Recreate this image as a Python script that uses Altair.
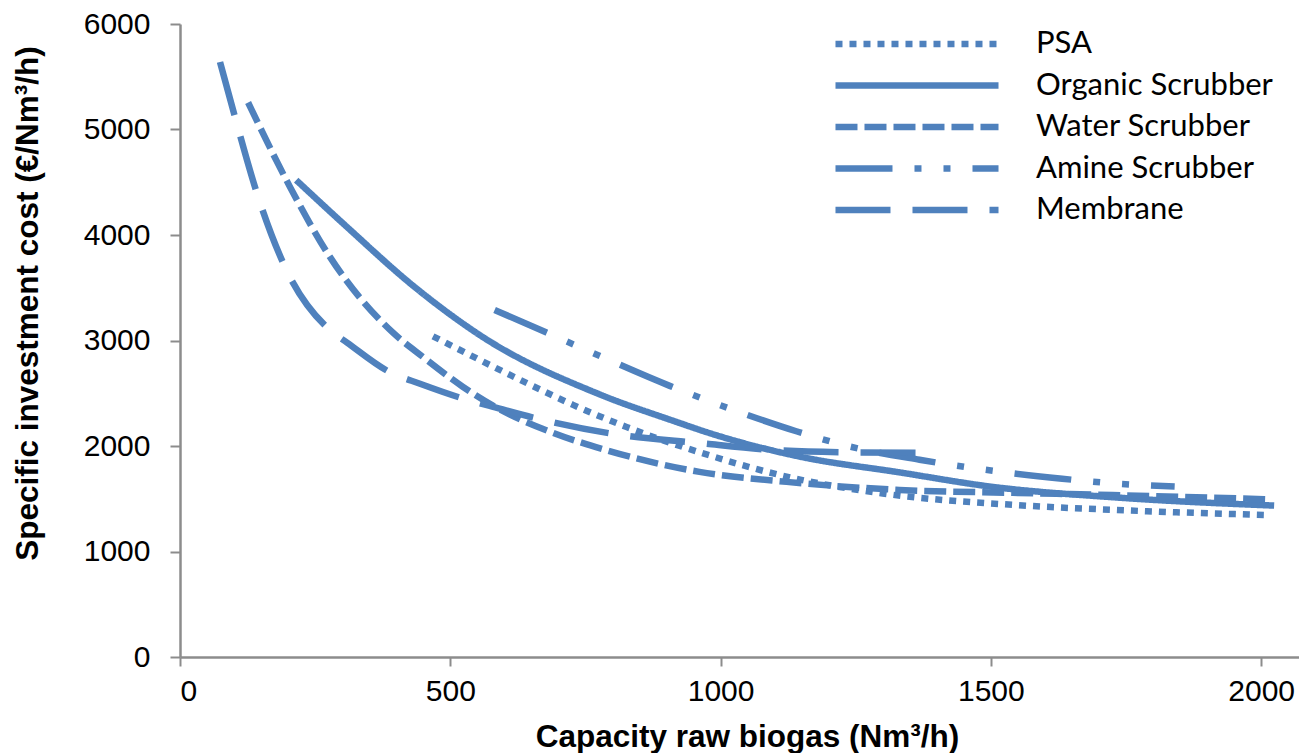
import altair as alt
import pandas as pd

series = ["PSA", "Organic Scrubber", "Water Scrubber", "Amine Scrubber", "Membrane"]

psa_x = [468, 628, 727, 826, 974, 1122, 1300, 1547, 1725, 2015]
psa_y = [3040, 2630, 2390, 2180, 1920, 1710, 1550, 1440, 1395, 1345]

organic_x = [215, 308, 431, 499, 555, 776, 906, 1000, 1146, 1331, 1500, 1738, 2024]
organic_y = [4520, 4080, 3520, 3250, 3050, 2490, 2250, 2090, 1900, 1750, 1615, 1510, 1435]

water_x = [126, 203, 277, 394, 449, 523, 586, 690, 789, 961, 1122, 1331, 1550, 1725, 2015]
water_y = [5256, 4460, 3795, 3074, 2846, 2562, 2362, 2125, 1960, 1755, 1660, 1584, 1555, 1535, 1495]

amine_x = [582, 678, 767, 906, 1041, 1140, 1235, 1368, 1482, 1632, 1728, 1840]
amine_y = [3290, 3075, 2875, 2570, 2310, 2140, 2000, 1870, 1780, 1690, 1645, 1615]

membrane_x = [74, 102, 142, 194, 277, 309, 388, 444, 530, 573, 669, 813, 956, 1103, 1244, 1390]
membrane_y = [5640, 5114, 4402, 3700, 3100, 2980, 2700, 2590, 2440, 2380, 2250, 2106, 2030, 1960, 1940, 1935]

x_ticks = [0, 500, 1000, 1500, 2000]
y_ticks = [0, 1000, 2000, 3000, 4000, 5000, 6000]

dashes = [[7, 7], [1, 0], [22, 7], [57, 22, 7, 22, 7, 22], [55, 22]]

rows = []
for name, xs, ys in [
    ("PSA", psa_x, psa_y),
    ("Organic Scrubber", organic_x, organic_y),
    ("Water Scrubber", water_x, water_y),
    ("Amine Scrubber", amine_x, amine_y),
    ("Membrane", membrane_x, membrane_y),
]:
    for xv, yv in zip(xs, ys):
        rows.append({"series": name, "x": xv, "y": yv})
df = pd.DataFrame(rows)

BLUE = "#4F81BD"
AXIS_GREY = "#8c8c8c"

chart = (
    alt.Chart(df)
    .mark_line(strokeWidth=6.5, interpolate="monotone", color=BLUE, strokeCap="butt")
    .encode(
        x=alt.X(
            "x:Q",
            scale=alt.Scale(domain=[0, 2070], nice=False, zero=True),
            axis=alt.Axis(
                values=x_ticks,
                format="d",
                title="Capacity raw biogas (Nm³/h)",
                grid=False,
                domainColor=AXIS_GREY,
                domainWidth=2.5,
                tickColor=AXIS_GREY,
                tickWidth=2,
                tickSize=9,
                labelFont="Liberation Sans",
                labelFontSize=30,
                labelColor="#000000",
                labelPadding=10,
                titleFont="Liberation Sans",
                titleFontSize=31.5,
                titleFontWeight="bold",
                titleColor="#000000",
                titleBaseline="alphabetic",
                titleX=567,
                titleY=89,
            ),
        ),
        y=alt.Y(
            "y:Q",
            scale=alt.Scale(domain=[0, 6000], nice=False),
            axis=alt.Axis(
                values=y_ticks,
                format="d",
                title="Specific investment cost (€/Nm³/h)",
                grid=False,
                domainColor=AXIS_GREY,
                domainWidth=2.5,
                tickColor=AXIS_GREY,
                tickWidth=2,
                tickSize=10,
                labelFont="Liberation Sans",
                labelFontSize=30,
                labelColor="#000000",
                labelPadding=20,
                titleFont="Liberation Sans",
                titleFontSize=31.5,
                titleFontWeight="bold",
                titleColor="#000000",
                titleBaseline="alphabetic",
                titleX=-143,
                titleY=279,
            ),
        ),
        strokeDash=alt.StrokeDash(
            "series:N",
            scale=alt.Scale(domain=series, range=dashes),
            legend=alt.Legend(
                title=None,
                orient="none",
                legendX=717,
                legendY=0,
                symbolType="M-5,0H5",
                symbolSize=1063,
                symbolStrokeWidth=6.5,
                symbolStrokeColor=BLUE,
                symbolFillColor="transparent",
                labelFont="Lato",
                labelFontSize=31,
                labelColor="#000000",
                labelOffset=99,
                labelLimit=500,
                rowPadding=6.5,
                padding=0,
            ),
        ),
    )
    .properties(
        width=1119,
        height=633,
        autosize=alt.AutoSizeParams(type="none"),
        padding={"left": 172, "top": 16, "right": 0, "bottom": 100},
    )
    .configure_view(stroke=None)
)

chart.save("out.html", embed_options={"renderer": "svg", "actions": False})
